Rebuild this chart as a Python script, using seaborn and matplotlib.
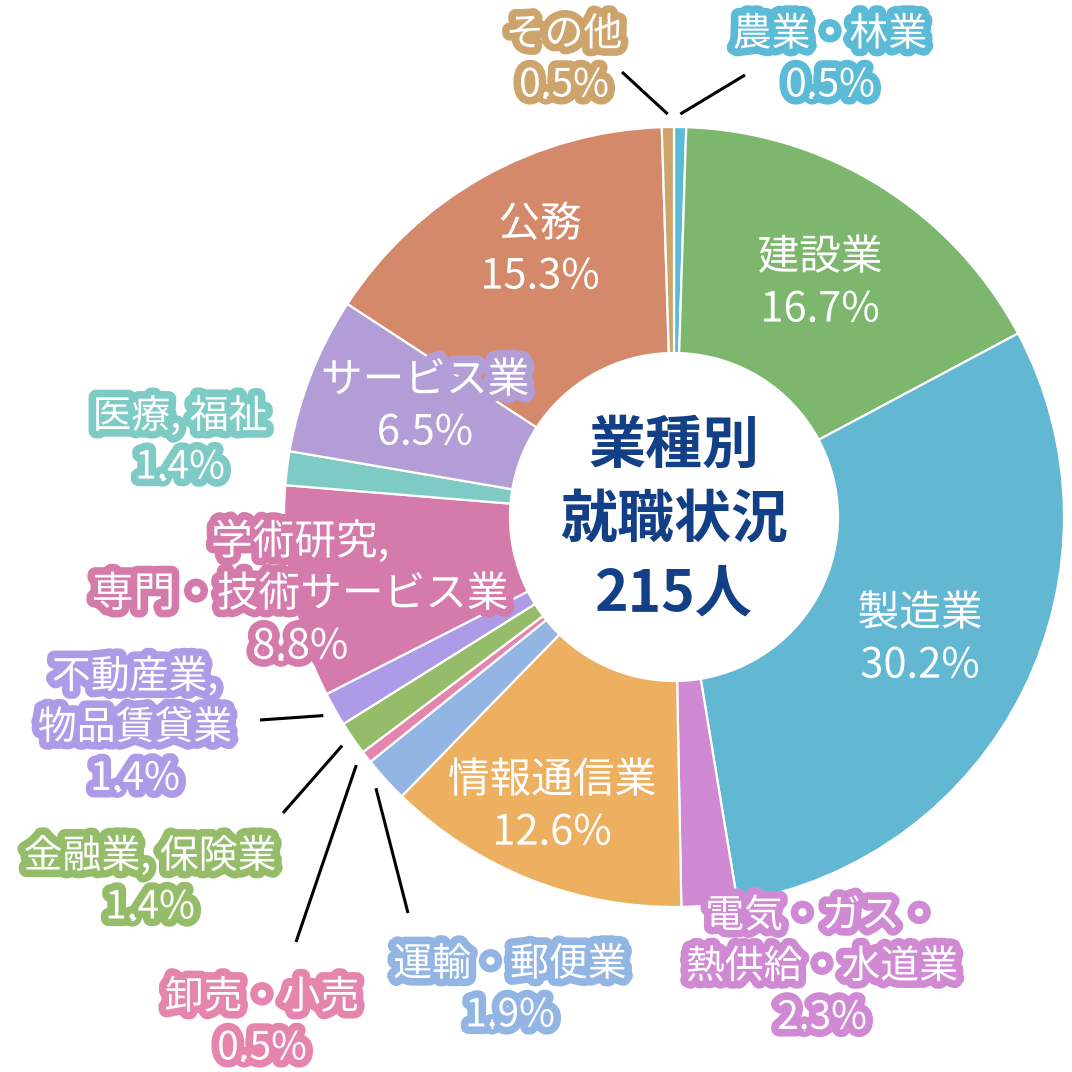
# 業種別 就職状況 donut chart
import matplotlib
matplotlib.use('Agg')
import matplotlib.pyplot as plt
import matplotlib.patheffects as pe
import seaborn as sns
import numpy as np

# data (clockwise from the top)
industries = ['農業・林業', '建設業', '製造業', '電気・ガス・\n熱供給・水道業', '情報通信業',
              '運輸・郵便業', '卸売・小売', '金融業, 保険業', '不動産業,\n物品賃貸業',
              '学術研究,\n専門・技術サービス業', '医療, 福祉', 'サービス業', '公務', 'その他']
shares = [0.5, 16.7, 30.2, 2.3, 12.6, 1.9, 0.5, 1.4, 1.4, 8.8, 1.4, 6.5, 15.3, 0.5]
total_people = 215
center_title = '業種別\n就職状況\n{}人'.format(total_people)

colors = ['#5bbad6', '#7db66d', '#62b7d3', '#d08ad3', '#ecb060',
          '#93b5e4', '#e585ad', '#95bd69', '#ad9be8',
          '#d57bab', '#7ecac4', '#b39dd7', '#d4896b', '#cda56c']

# layout (pixel positions of label blocks, y down)
label_pos = [(830, 60), (820, 284), (920, 640), (822, 967), (552, 807),
             (510, 990), (262, 1023), (150, 882), (135, 728),
             (300, 594), (180, 442), (425, 407), (540, 251), (564, 60)]
inside = [False, True, True, False, True, False, False, False, False,
          True, False, True, True, False]
# leader line end points for small slices
leader_end = {0: (745, 75), 5: (408, 913), 6: (296, 942), 7: (283, 813),
              8: (260, 720), 13: (622, 72)}

sns.set_theme(style='white')
plt.rcParams['font.family'] = ['Noto Sans CJK JP', 'DejaVu Sans']

fig = plt.figure(figsize=(10.72, 10.72), dpi=100)
ax = fig.add_axes([0, 0, 1, 1])

cx, cy, R, W = 674, 517, 390, 226
ax.pie(shares, colors=sns.color_palette(colors), center=(cx, cy), radius=R,
       startangle=-90, counterclock=True,
       wedgeprops=dict(width=W, edgecolor='white', linewidth=1.6))

ax.set_xlim(0, 1072)
ax.set_ylim(1072, 0)
ax.set_aspect('equal')
ax.axis('off')

# leader lines
cum = np.cumsum(shares) - np.array(shares) / 2
for i, (ex, ey) in leader_end.items():
    th = np.deg2rad(-90 + 360 * cum[i] / 100)
    sx, sy = cx + 403 * np.cos(th), cy + 403 * np.sin(th)
    ax.plot([sx, ex], [sy, ey], color='black', lw=2.2, solid_capstyle='butt')

# labels
for i, name in enumerate(industries):
    x, y = label_pos[i]
    txt = '{}\n{}%'.format(name, shares[i])
    fs = 30 if inside[i] else 28
    ax.text(x, y, txt, ha='center', va='center', fontsize=fs, color='white',
            linespacing=1.35,
            path_effects=[pe.withStroke(linewidth=11, foreground=colors[i])])

ax.text(cx, 520, center_title, ha='center', va='center', fontsize=41,
        fontweight='bold', color='#123f86', linespacing=1.35)

plt.savefig('out.png', dpi=100)
